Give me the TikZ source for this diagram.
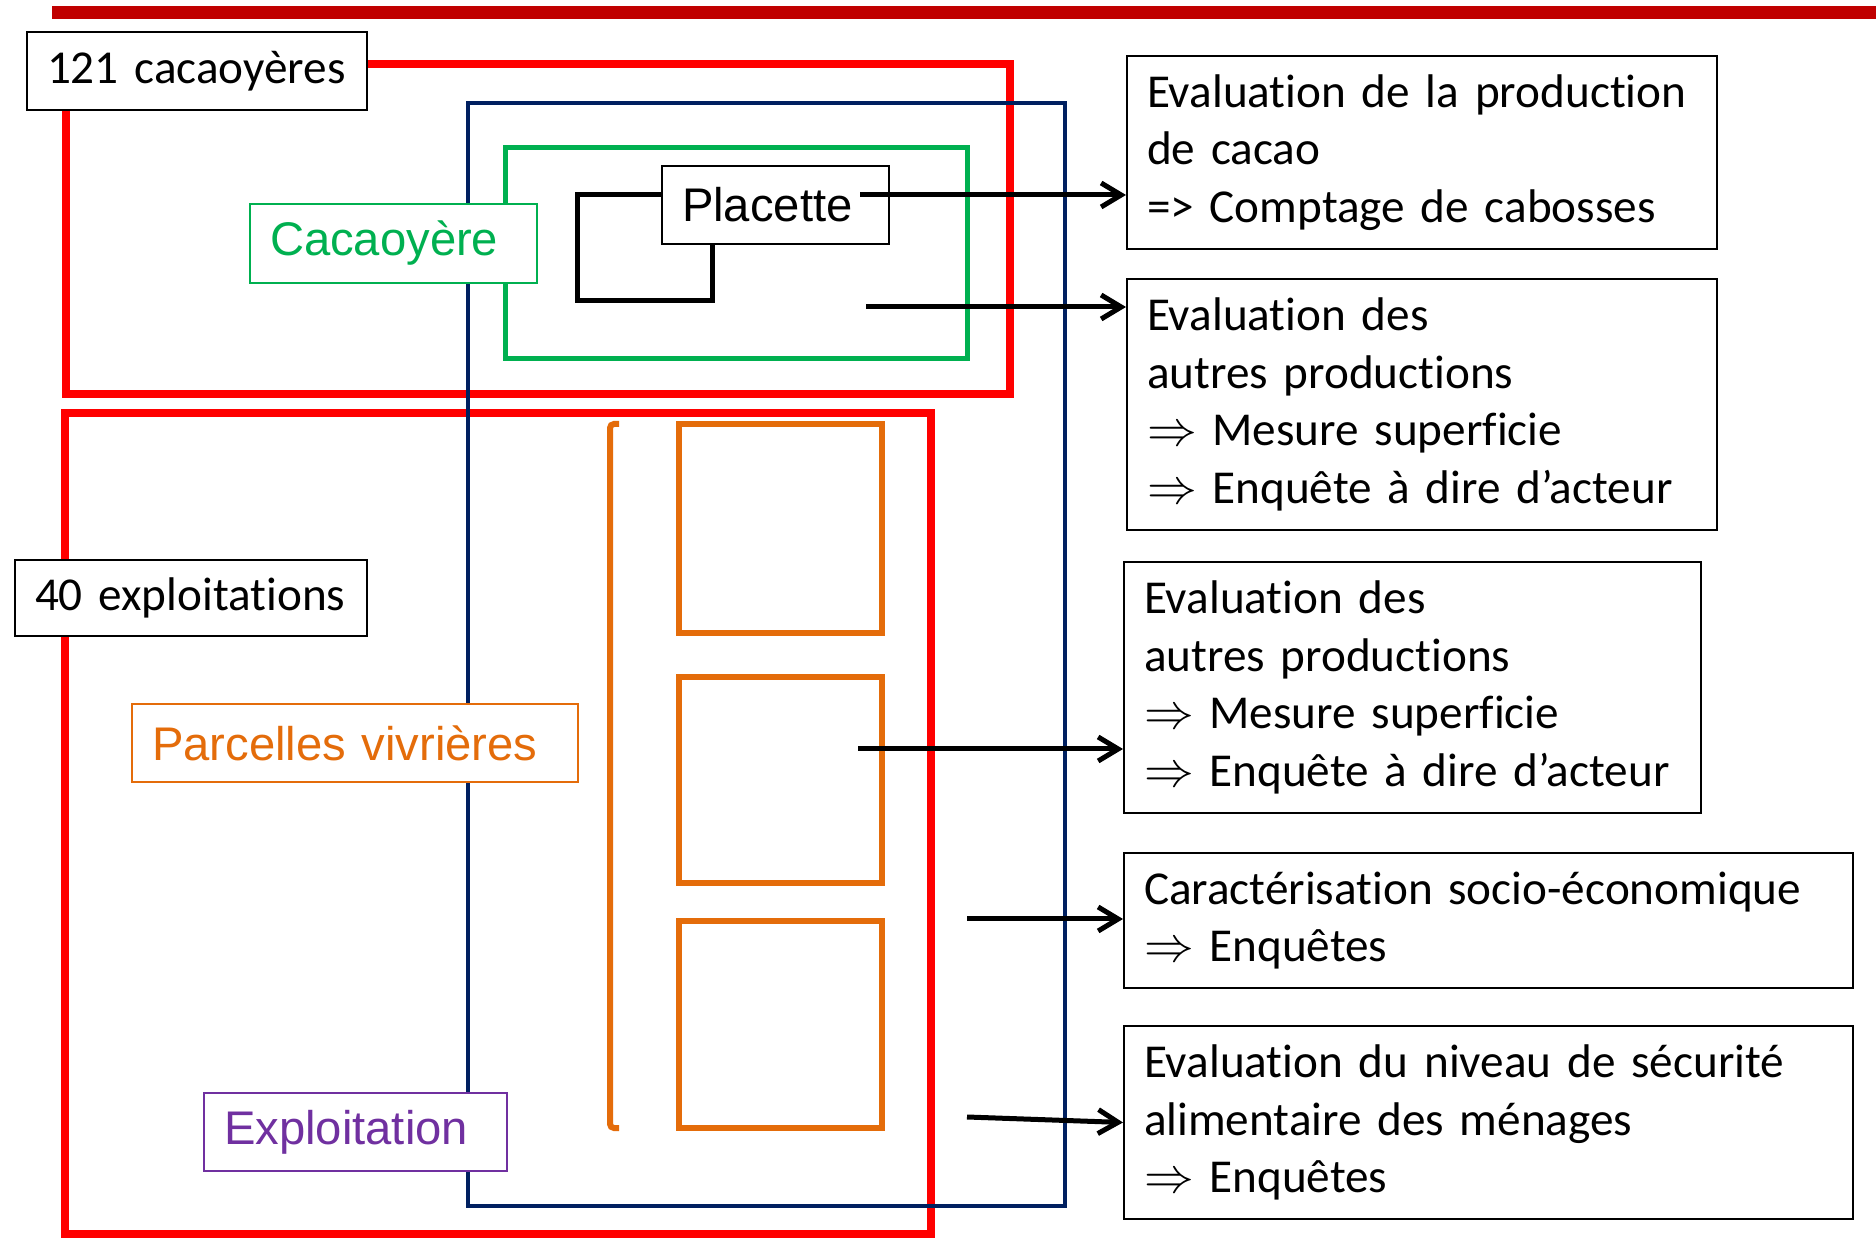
\documentclass[tikz,border=0pt]{standalone}
\usepackage{fontspec}
\setmainfont{Carlito}[Ligatures=NoCommon]
\newfontfamily\arialf{Liberation Sans}
\usetikzlibrary{arrows.meta}
\definecolor{topred}{HTML}{C00000}
\definecolor{cred}{HTML}{FF0000}
\definecolor{cnavy}{HTML}{002060}
\definecolor{cgreen}{HTML}{00B050}
\definecolor{corange}{HTML}{E46C0A}
\definecolor{cpurple}{HTML}{7030A0}
\newcommand\calfont{\fontsize{23.6pt}{28.7pt}\selectfont}
\newcommand\arfont{\arialf\fontsize{23.6pt}{28pt}\selectfont}
\begin{document}
\begin{tikzpicture}[x=0.5pt,y=-0.5pt,
  lbl/.style={draw=black, line width=1pt, fill=white, anchor=north west,
    inner xsep=10pt, inner ysep=0pt, align=left, font=\calfont, text=black},
  arr/.style={line width=2.5pt, -{Straight Barb[length=10pt,width=12pt]}},
  redbox/.style={draw=cred, line width=4pt},
  orbox/.style={draw=corange, line width=3pt}]
\fill[white] (0,0) rectangle (1876,1240);
\useasboundingbox (0,0) rectangle (1876,1240);
% top bar
\fill[topred] (52,6) rectangle (1876,19);
% red frames
\draw[redbox] (66,64) rectangle (1010,394);
\draw[redbox] (65,413) rectangle (931,1234);
% navy frame
\draw[cnavy, line width=2pt] (468,103) rectangle (1065,1206);
% green frame
\draw[cgreen, line width=2.5pt] (505,148) rectangle (967,359);
% orange bracket and plots
\draw[orbox, rounded corners=2pt] (619,424) -- (610,424) -- (610,1128) -- (619,1128);
\draw[orbox] (679,424) rectangle (882,633);
\draw[orbox] (679,677) rectangle (882,883);
\draw[orbox] (679,921) rectangle (882,1128);
% black plot shape
\draw[black, line width=2.5pt] (577,195) rectangle (712,301);
% labels
\node[lbl, text width=150pt, minimum height=39pt] (n121) at (26,31) {\mbox{121 cacaoyères}};
\node[lbl, text width=156pt, minimum height=38pt] (n40) at (14,559) {\mbox{40 exploitations}};
\node[lbl, draw=cgreen, text=cgreen, font=\arfont, text width=123.5pt, minimum height=39.5pt] (cac) at (249,203) {\mbox{Cacaoyère}};
\node[lbl, font=\arfont, text width=93.5pt, minimum height=39pt] (plac) at (661,165) {\mbox{Placette}};
\node[lbl, draw=corange, text=corange, font=\arfont, text width=203pt, minimum height=39pt] (parc) at (131,703) {\mbox{Parcelles vivrières}};
\node[lbl, draw=cpurple, text=cpurple, font=\arfont, text width=131.5pt, minimum height=39pt] (expl) at (203,1092) {\mbox{Exploitation}};
% right boxes
\node[lbl, text width=275pt, minimum height=96.5pt] (ev1) at (1126,55)
  {Evaluation de la production\\de cacao\\=> Comptage de cabosses};
\node[lbl, text width=275pt, minimum height=125.5pt] (ev2) at (1126,278)
  {Evaluation des\\autres productions\\$\Rightarrow$ Mesure superficie\\$\Rightarrow$ Enquête à dire d’acteur};
\node[lbl, text width=268.5pt, minimum height=125.5pt] (ev3) at (1123,561)
  {Evaluation des\\autres productions\\$\Rightarrow$ Mesure superficie\\$\Rightarrow$ Enquête à dire d’acteur};
\node[lbl, text width=344.5pt, minimum height=67.5pt] (ev4) at (1123,852)
  {Caractérisation socio-économique\\$\Rightarrow$ Enquêtes};
\node[lbl, text width=344.5pt, minimum height=96.5pt] (ev5) at (1123,1025)
  {Evaluation du niveau de sécurité\\alimentaire des ménages\\$\Rightarrow$ Enquêtes};
% arrows
\coordinate (s1) at (860,195);
\coordinate (s2) at (866,307);
\coordinate (s3) at (858,749);
\coordinate (s4) at (967,919);
\coordinate (s5) at (967,1117);
\draw[arr] (s1) -- (s1 -| ev1.west);
\draw[arr] (s2) -- (s2 -| ev2.west);
\draw[arr] (s3) -- (s3 -| ev3.west);
\draw[arr] (s4) -- (s4 -| ev4.west);
\draw[arr] (s5) -- (ev5.west);
\end{tikzpicture}
\end{document}
